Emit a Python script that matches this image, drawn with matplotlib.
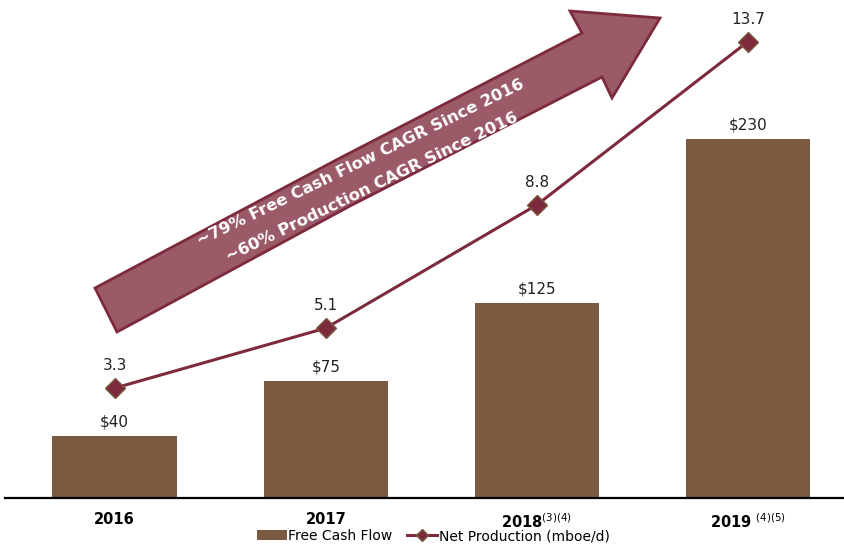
import matplotlib.pyplot as plt
from matplotlib.patches import Polygon
import numpy as np

years = ["2016", "2017", "2018$^{(3)(4)}$", "2019 $^{(4)(5)}$"]
free_cash_flow = [40, 75, 125, 230]
net_production = [3.3, 5.1, 8.8, 13.7]

bar_color = "#7B5A41"
line_color = "#7D2A3C"

fig = plt.figure(figsize=(8.45, 5.48), dpi=100)
ax = fig.add_axes([5 / 845, 50 / 548, 840 / 845, 488 / 548])
ax2 = ax.twinx()

x = np.arange(len(years))
ax.bar(x, free_cash_flow, width=0.59, color=bar_color, label="Free Cash Flow", zorder=2)
for xi, v in zip(x, free_cash_flow):
    ax.text(xi, v + 4, f"${v}", ha="center", va="bottom", fontsize=11, color="#222222")

ax2.plot(x, net_production, color=line_color, lw=2.2, marker="D", ms=10,
         markerfacecolor=line_color, markeredgecolor="#7B5A41", markeredgewidth=1,
         label="Net Production (mboe/d)", zorder=3)
for xi, v in zip(x, net_production):
    ax2.text(xi, v + 0.45, f"{v}", ha="center", va="bottom", fontsize=11, color="#222222")

ax.set_xlim(-0.52, 3.46)
ax.set_ylim(0, 312.8)
ax2.set_ylim(0, 14.65)

for a in (ax, ax2):
    for s in ("top", "right", "left"):
        a.spines[s].set_visible(False)
    a.set_yticks([])
ax.spines["bottom"].set_linewidth(1.6)
ax.spines["bottom"].set_color("black")
ax2.spines["bottom"].set_visible(False)

ax.set_xticks(x)
ax.set_xticklabels(years, fontsize=10.5, fontweight="bold")
ax.tick_params(axis="x", length=0, pad=10)

# big arrow annotation (pixel coordinates converted to figure fraction)
W, H = 845, 548
pts = [(95, 288), (340, 158), (582, 33), (570, 11), (660, 18), (612, 98),
       (602, 77), (350, 206), (117, 332)]
arrow = Polygon([(px / W, 1 - py / H) for px, py in pts], closed=True,
                transform=fig.transFigure, facecolor="#9B5A67", edgecolor=line_color,
                lw=2, zorder=1)
fig.patches.append(arrow)
fig.text(361 / W, 1 - 163 / H, "~79% Free Cash Flow CAGR Since 2016", rotation=26,
         ha="center", va="center", color="white", fontsize=11.8, fontweight="bold")
fig.text(372 / W, 1 - 187 / H, "~60% Production CAGR Since 2016", rotation=26,
         ha="center", va="center", color="white", fontsize=11.8, fontweight="bold")

h1, l1 = ax.get_legend_handles_labels()
h2, l2 = ax2.get_legend_handles_labels()
leg = fig.legend(h1 + h2, l1 + l2, loc="center", bbox_to_anchor=(433 / W, 1 - 536 / H),
                 ncol=2, frameon=False, handlelength=2.2, columnspacing=1.0,
                 handletextpad=0.1, markerscale=0.6, prop={"size": 10})

fig.savefig("out.png", dpi=100)
